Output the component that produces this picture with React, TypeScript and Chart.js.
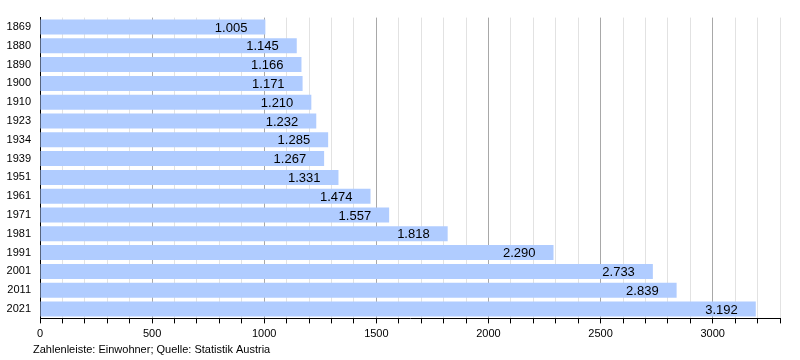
import React, { useEffect, useRef } from "react";
import { Chart, registerables } from "chart.js";

Chart.register(...registerables);

const years = ["1869", "1880", "1890", "1900", "1910", "1923", "1934", "1939", "1951", "1961", "1971", "1981", "1991", "2001", "2011", "2021"];
const population = [1005, 1145, 1166, 1171, 1210, 1232, 1285, 1267, 1331, 1474, 1557, 1818, 2290, 2733, 2839, 3192];
const footerText = "Zahlenleiste: Einwohner; Quelle: Statistik Austria";

const FONT = "'Liberation Sans', Arial, sans-serif";

function fmt(v: number): string {
  const s = String(v);
  return s.replace(/\B(?=(\d{3})+(?!\d))/g, ".");
}

const labelPlugin = {
  id: "valueLabels",
  afterDatasetsDraw(chart: any) {
    const ctx = chart.ctx;
    const meta = chart.getDatasetMeta(0);
    ctx.save();
    ctx.font = `13px ${FONT}`;
    ctx.fillStyle = "#000";
    ctx.textAlign = "right";
    ctx.textBaseline = "middle";
    meta.data.forEach((bar: any, i: number) => {
      ctx.fillText(fmt(population[i]), bar.x - 18, bar.y + 1);
    });
    ctx.font = `11px ${FONT}`;
    ctx.textAlign = "left";
    ctx.fillText(footerText, 33, 350);
    ctx.restore();
  },
};

export default function App() {
  const ref = useRef<HTMLCanvasElement>(null);
  useEffect(() => {
    if (!ref.current) return;
    const chart = new Chart(ref.current, {
      type: "bar",
      data: {
        labels: years,
        datasets: [
          {
            data: population,
            backgroundColor: "rgb(176,204,255)",
            borderWidth: 0,
            categoryPercentage: 1,
            barPercentage: 0.8,
          },
        ],
      },
      plugins: [labelPlugin],
      options: {
        indexAxis: "y",
        animation: false,
        responsive: false,
        maintainAspectRatio: false,
        layout: { padding: { top: 17.6, right: 20, left: 0, bottom: 0 } },
        plugins: { legend: { display: false }, tooltip: { enabled: false } },
        scales: {
          x: {
            type: "linear",
            min: 0,
            max: 3300,
            afterFit(scale: any) {
              scale.height = 41.6;
            },
            ticks: {
              stepSize: 100,
              autoSkip: false,
              maxRotation: 0,
              padding: 4,
              color: "#000",
              font: { family: FONT, size: 11 },
              callback: (v: any) => (Number(v) % 500 === 0 ? String(v) : ""),
            },
            grid: {
              color: (c: any) => (c.tick && c.tick.value % 500 === 0 ? "#a8a8a8" : "#e2e2e2"),
              lineWidth: 1,
              drawTicks: true,
              tickLength: 5,
              tickColor: "#000",
            },
            border: { display: true, color: "#000", width: 1 },
          },
          y: {
            afterFit(scale: any) {
              scale.width = 40;
            },
            ticks: {
              color: "#000",
              padding: 9,
              font: { family: FONT, size: 11 },
            },
            grid: { display: false, drawTicks: false },
            border: { display: true, color: "#000", width: 1 },
          },
        },
      },
    } as any);
    return () => chart.destroy();
  }, []);
  return (
    <div style={{ position: "fixed", left: 0, top: 0, width: 800, height: 360, background: "#fff" }}>
      <canvas ref={ref} width={800} height={360} style={{ width: 800, height: 360 }} />
    </div>
  );
}
